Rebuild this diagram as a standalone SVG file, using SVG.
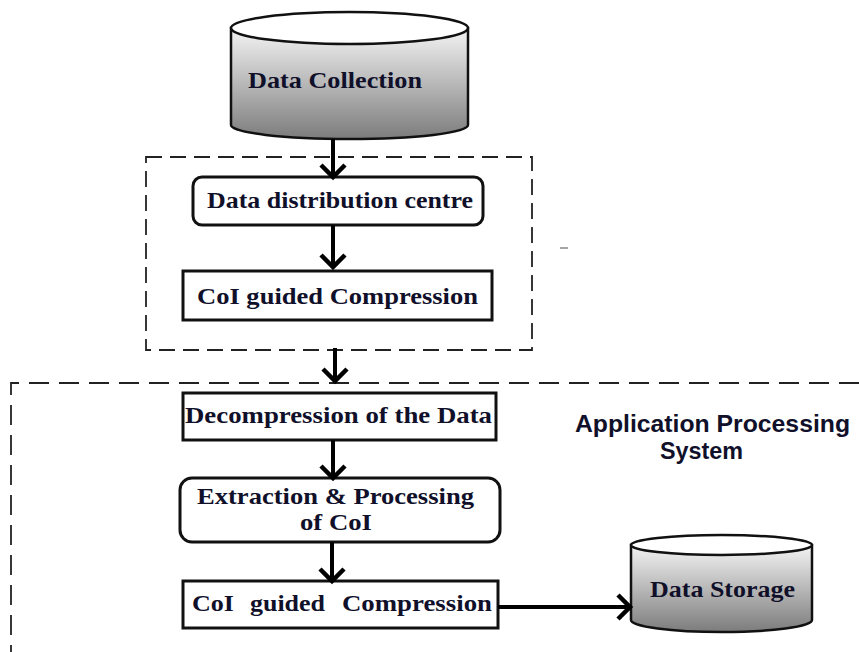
<svg xmlns="http://www.w3.org/2000/svg" width="859" height="652" viewBox="0 0 859 652">
  <defs>
    <linearGradient id="cylGrad" x1="0" y1="0" x2="0" y2="1">
      <stop offset="0" stop-color="#f4f4f4"/>
      <stop offset="1" stop-color="#7c7c7c"/>
    </linearGradient>
    <marker id="chev" viewBox="-15 -15 17 30" markerWidth="17" markerHeight="30" refX="0" refY="0" markerUnits="userSpaceOnUse" orient="auto" overflow="visible">
      <path d="M-12,-12 L0,0 L-12,12" fill="none" stroke="#000" stroke-width="4.5" stroke-linejoin="miter"/>
    </marker>
    <style>
      .lbl { font-family: "Liberation Serif", "Times New Roman", serif; font-weight: bold; font-size: 23px; fill: #10102a; }
      .sans { font-family: "Liberation Sans", Arial, sans-serif; font-weight: bold; font-size: 23px; fill: #10102a; }
      .box { fill: #fff; stroke: #111; stroke-width: 3; }
      .cyl { stroke: #111; stroke-width: 2.5; }
      .dash1 { fill: none; stroke: #222; stroke-width: 1.8; stroke-dasharray: 16 8; }
      .dash2 { fill: none; stroke: #222; stroke-width: 1.8; stroke-dasharray: 20 10; }
      .conn { fill: none; stroke: #000; stroke-width: 4; marker-end: url(#chev); }
    </style>
  </defs>
  <rect width="859" height="652" fill="#fff"/>

  <g id="groups">
    <rect id="distribution-group" class="dash1" x="146" y="157" width="386" height="193"/>
    <path id="application-processing-system" class="dash2" d="M859 383 H11 V652"/>
    <g id="aps-label">
      <text class="sans" x="575" y="432" textLength="275" lengthAdjust="spacingAndGlyphs">Application Processing</text>
      <text class="sans" x="660" y="459" textLength="83" lengthAdjust="spacingAndGlyphs">System</text>
    </g>
  </g>

  <g id="data-collection">
    <path class="cyl" fill="url(#cylGrad)" d="M231 28 V125 A118.5 14 0 0 0 468 125 V28 Z"/>
    <ellipse class="cyl" fill="#fff" cx="349.5" cy="28" rx="118.5" ry="16"/>
    <text class="lbl" x="248" y="88" textLength="174" lengthAdjust="spacingAndGlyphs">Data Collection</text>
  </g>

  <g id="data-distribution-centre">
    <rect class="box" x="193" y="177" width="290" height="48" rx="9" stroke-width="2.5"/>
    <text class="lbl" x="207" y="208" textLength="266" lengthAdjust="spacingAndGlyphs">Data distribution centre</text>
  </g>

  <g id="coi-compression-1">
    <rect class="box" x="183" y="271" width="309" height="49" stroke-width="4.5"/>
    <text class="lbl" x="197" y="304" textLength="281" lengthAdjust="spacingAndGlyphs">CoI guided Compression</text>
  </g>

  <g id="decompression">
    <rect class="box" x="183" y="393" width="313" height="47"/>
    <text class="lbl" x="185" y="423" textLength="307" lengthAdjust="spacingAndGlyphs">Decompression of the Data</text>
  </g>

  <g id="extraction-processing">
    <rect class="box" x="180" y="478" width="320" height="64" rx="12" stroke-width="2.5"/>
    <text class="lbl" x="197" y="504" textLength="277" lengthAdjust="spacingAndGlyphs">Extraction &amp; Processing</text>
    <text class="lbl" x="300" y="530" textLength="72" lengthAdjust="spacingAndGlyphs">of CoI</text>
  </g>

  <g id="coi-compression-2">
    <rect class="box" x="183" y="581" width="315" height="47"/>
    <text class="lbl" y="611"><tspan x="192" textLength="42" lengthAdjust="spacingAndGlyphs">CoI</tspan><tspan x="250" textLength="75" lengthAdjust="spacingAndGlyphs">guided</tspan><tspan x="342" textLength="150" lengthAdjust="spacingAndGlyphs">Compression</tspan></text>
  </g>

  <g id="data-storage">
    <path class="cyl" fill="url(#cylGrad)" d="M631 545 V620 A90.5 12 0 0 0 812 620 V545 Z"/>
    <ellipse class="cyl" fill="#fff" cx="721.5" cy="545" rx="90.5" ry="10"/>
    <text class="lbl" x="650" y="597" textLength="145" lengthAdjust="spacingAndGlyphs">Data Storage</text>
  </g>

  <g id="connectors">
    <line class="conn" x1="333" y1="139" x2="333" y2="177"/>
    <line class="conn" x1="333" y1="225" x2="333" y2="267"/>
    <line class="conn" x1="335" y1="348" x2="335" y2="381"/>
    <line class="conn" x1="333" y1="440" x2="333" y2="478"/>
    <line class="conn" x1="332" y1="542" x2="332" y2="581"/>
    <line class="conn" x1="498" y1="607" x2="630" y2="607"/>
  </g>

  <path id="stray-mark" d="M560 248 H568" stroke="#888" stroke-width="1.5"/>
</svg>
